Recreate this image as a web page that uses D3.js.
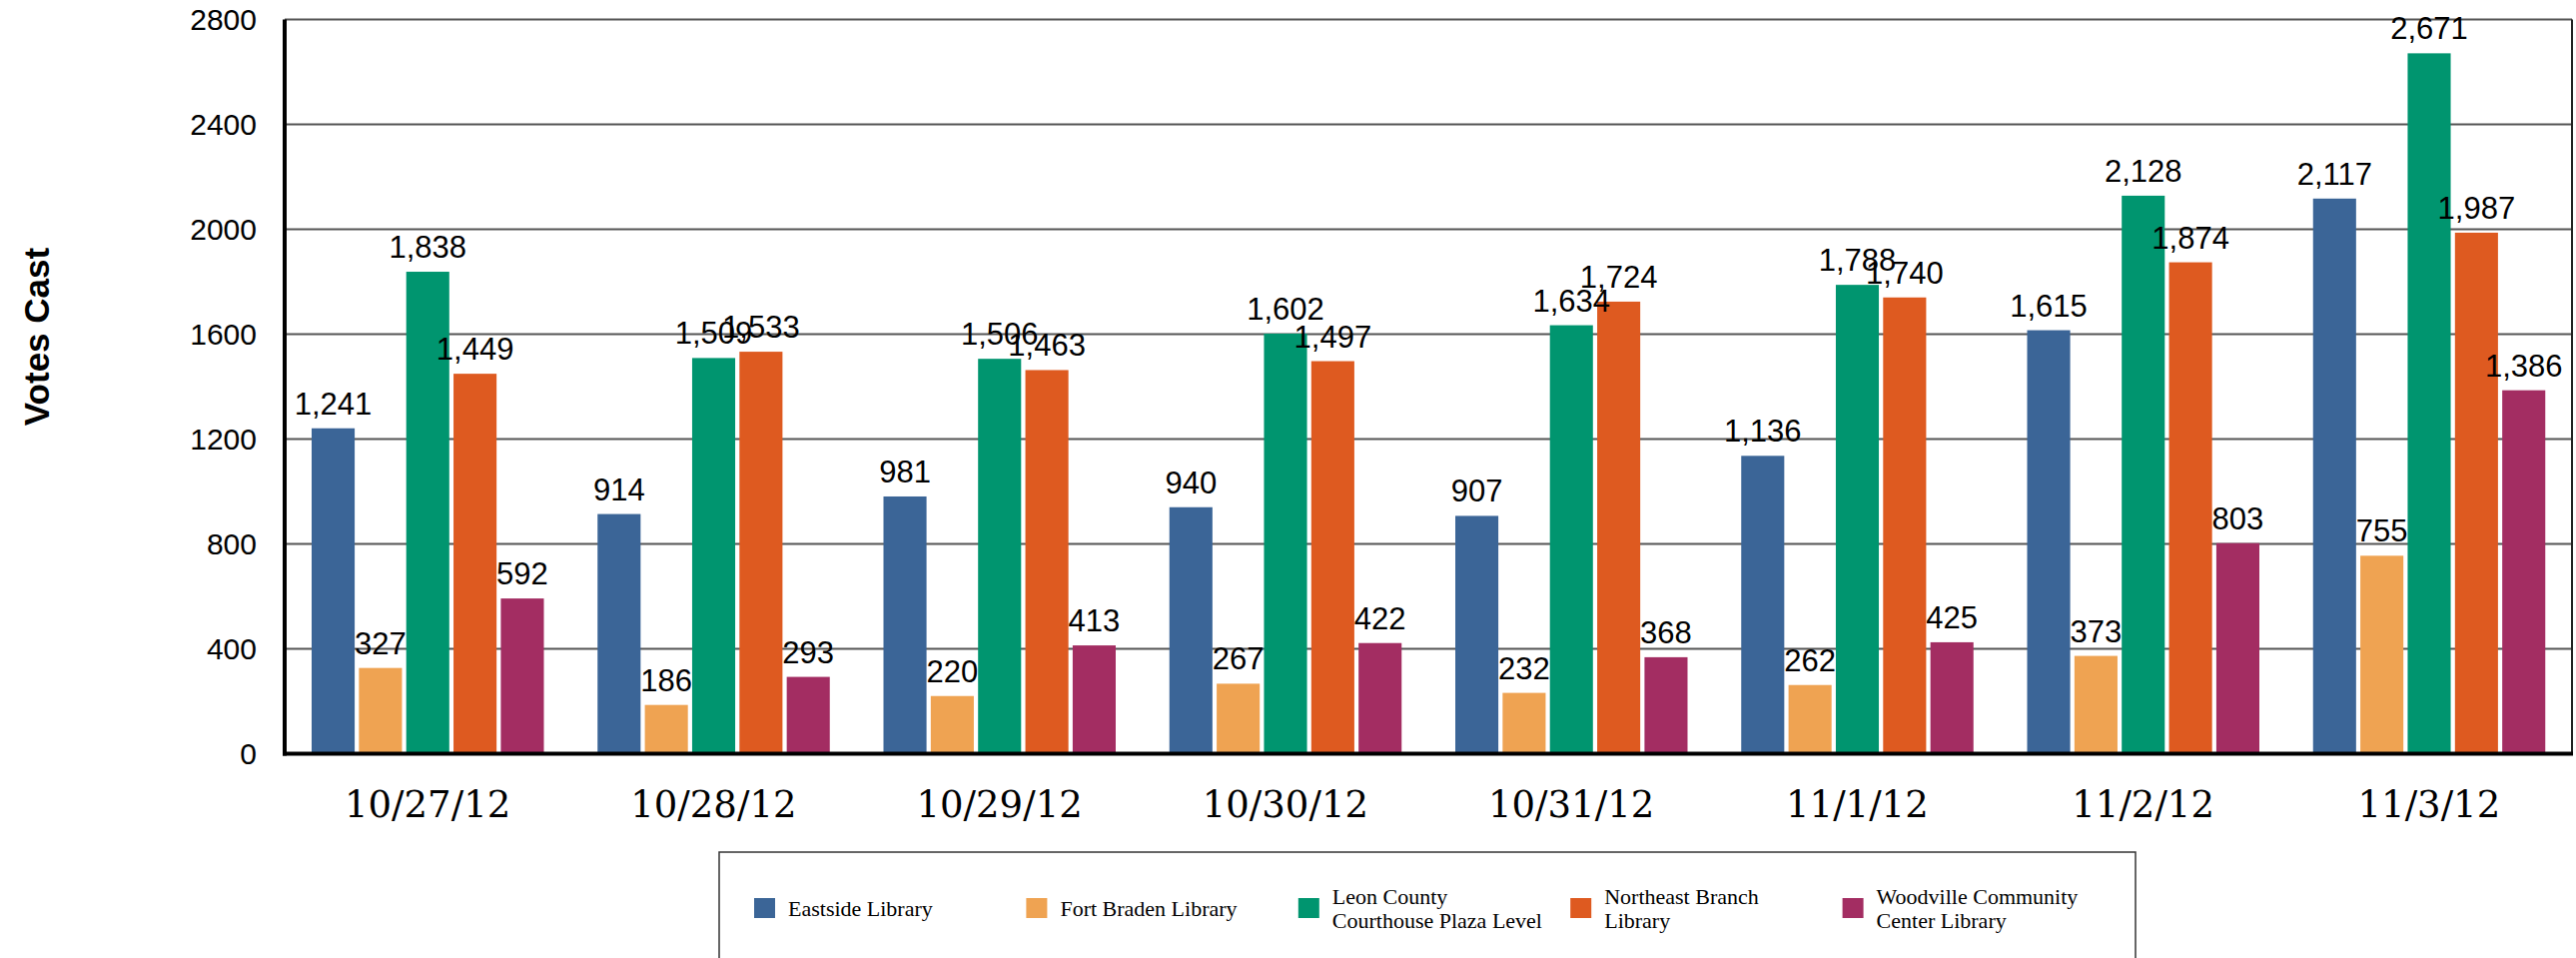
<!DOCTYPE html>
<html>
<head>
<meta charset="utf-8">
<script src="https://cdn.jsdelivr.net/npm/d3@7"></script>
<style>
  body { margin: 0; background: #ffffff; }
  svg { display: block; }
</style>
</head>
<body>
<div id="chart"></div>
<script>
// chart values
var dates = ["10/27/12", "10/28/12", "10/29/12", "10/30/12", "10/31/12", "11/1/12", "11/2/12", "11/3/12"];
var seriesNames = ["Eastside Library", "Fort Braden Library", "Leon County Courthouse Plaza Level", "Northeast Branch Library", "Woodville Community Center Library"];
var legendLines = [["Eastside Library"], ["Fort Braden Library"], ["Leon County", "Courthouse Plaza Level"], ["Northeast Branch", "Library"], ["Woodville Community", "Center Library"]];
var colors = ["#3b6597", "#efa352", "#00956f", "#de5a20", "#a32d62"];

var eastside   = [1241, 914, 981, 940, 907, 1136, 1615, 2117];
var fortBraden = [327, 186, 220, 267, 232, 262, 373, 755];
var leonCounty = [1838, 1509, 1506, 1602, 1634, 1788, 2128, 2671];
var northeast  = [1449, 1533, 1463, 1497, 1724, 1740, 1874, 1987];
var woodville  = [592, 293, 413, 422, 368, 425, 803, 1386];

var yTicks = [0, 400, 800, 1200, 1600, 2000, 2400, 2800];

var allSeries = [eastside, fortBraden, leonCounty, northeast, woodville];

var width = 2579, height = 959;
var plot = {left: 285, right: 2575, top: 19.5, bottom: 754.5};

var svg = d3.select("#chart")
    .append("svg")
    .attr("width", width)
    .attr("height", height)
    .style("background", "#ffffff");

var x0 = d3.scaleBand()
    .domain(dates)
    .range([plot.left, plot.right])
    .padding(0);

var x1 = d3.scaleBand()
    .domain(seriesNames)
    .range([27, 259.5])
    .paddingInner(0.09)
    .paddingOuter(0);

var y = d3.scaleLinear()
    .domain([0, 2800])
    .range([plot.bottom, plot.top]);

// gridlines
svg.append("g")
    .selectAll("line")
    .data(yTicks.filter(function(d) { return d > 0; }))
    .enter().append("line")
    .attr("x1", plot.left)
    .attr("x2", plot.right)
    .attr("y1", function(d) { return y(d); })
    .attr("y2", function(d) { return y(d); })
    .attr("stroke", "#555555")
    .attr("stroke-width", 2);

// right border
svg.append("line")
    .attr("x1", plot.right).attr("x2", plot.right)
    .attr("y1", plot.top).attr("y2", plot.bottom)
    .attr("stroke", "#222222")
    .attr("stroke-width", 2);

// y axis labels
var yAxis = d3.axisLeft(y)
    .tickValues(yTicks)
    .tickSize(0)
    .tickPadding(28)
    .tickFormat(d3.format("d"));

var yAxisG = svg.append("g")
    .attr("transform", "translate(" + plot.left + ",0)")
    .call(yAxis);
yAxisG.select(".domain").remove();
yAxisG.selectAll("text")
    .attr("font-family", "'Liberation Sans', Arial, sans-serif")
    .attr("font-size", 30)
    .attr("fill", "#000000");

// bars, one group per date
var groups = svg.append("g")
    .selectAll("g")
    .data(dates)
    .enter().append("g")
    .attr("transform", function(d) { return "translate(" + x0(d) + ",0)"; });

groups.selectAll("rect")
    .data(function(d, i) {
        return seriesNames.map(function(s, k) { return {series: s, k: k, value: allSeries[k][i]}; });
    })
    .enter().append("rect")
    .attr("x", function(d) { return x1(d.series); })
    .attr("y", function(d) { return y(d.value); })
    .attr("width", x1.bandwidth())
    .attr("height", function(d) { return y(0) - y(d.value); })
    .attr("fill", function(d) { return colors[d.k]; });

// value labels
var fmt = d3.format(",");
groups.selectAll("text")
    .data(function(d, i) {
        return seriesNames.map(function(s, k) { return {series: s, k: k, value: allSeries[k][i]}; });
    })
    .enter().append("text")
    .attr("x", function(d) { return x1(d.series) + x1.bandwidth() / 2; })
    .attr("y", function(d) { return y(d.value) - 14; })
    .attr("text-anchor", "middle")
    .attr("font-family", "'Liberation Sans', Arial, sans-serif")
    .attr("font-size", 31)
    .attr("fill", "#000000")
    .text(function(d) { return fmt(d.value); });

// axis lines (left and bottom, thick black)
svg.append("line")
    .attr("x1", plot.left).attr("x2", plot.left)
    .attr("y1", plot.top).attr("y2", plot.bottom + 2)
    .attr("stroke", "#000000")
    .attr("stroke-width", 4);
svg.append("line")
    .attr("x1", plot.left - 2).attr("x2", plot.right + 1)
    .attr("y1", plot.bottom).attr("y2", plot.bottom)
    .attr("stroke", "#000000")
    .attr("stroke-width", 4);

// x axis labels
var xAxis = d3.axisBottom(x0).tickSize(0).tickPadding(0);
var xAxisG = svg.append("g")
    .attr("transform", "translate(0," + plot.bottom + ")")
    .call(xAxis);
xAxisG.select(".domain").remove();
xAxisG.selectAll("text")
    .attr("y", 63)
    .attr("dy", null)
    .attr("font-family", "'DejaVu Serif', serif")
    .attr("font-size", 37)
    .attr("fill", "#000000");

// y axis title
svg.append("text")
    .attr("transform", "translate(49,337) rotate(-90)")
    .attr("text-anchor", "middle")
    .attr("font-family", "'Liberation Sans', Arial, sans-serif")
    .attr("font-weight", "bold")
    .attr("font-size", 35)
    .attr("fill", "#000000")
    .text("Votes Cast");

// legend box
svg.append("rect")
    .attr("x", 720)
    .attr("y", 853)
    .attr("width", 1418)
    .attr("height", 140)
    .attr("fill", "#ffffff")
    .attr("stroke", "#333333")
    .attr("stroke-width", 1.5);

var legendX = d3.scaleBand()
    .domain(seriesNames)
    .range([755, 2117]);

var legendItems = svg.append("g")
    .selectAll("g")
    .data(seriesNames)
    .enter().append("g")
    .attr("transform", function(d) { return "translate(" + legendX(d) + ",0)"; });

legendItems.append("rect")
    .attr("x", 0)
    .attr("y", 899)
    .attr("width", 21)
    .attr("height", 20)
    .attr("fill", function(d, i) { return colors[i]; });

legendItems.append("text")
    .attr("x", 34)
    .attr("y", function(d, i) { return legendLines[i].length > 1 ? 905 : 917; })
    .attr("font-family", "'Liberation Serif', serif")
    .attr("font-size", 22)
    .attr("fill", "#000000")
    .selectAll("tspan")
    .data(function(d, i) { return legendLines[i]; })
    .enter().append("tspan")
    .attr("x", 34)
    .attr("dy", function(d, j) { return j === 0 ? 0 : 24; })
    .text(function(d) { return d; });
</script>
</body>
</html>
